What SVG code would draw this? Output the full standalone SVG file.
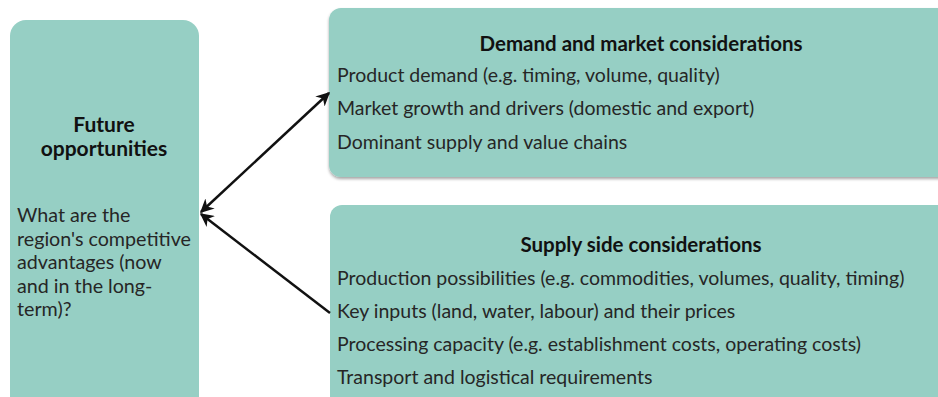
<svg xmlns="http://www.w3.org/2000/svg" width="938" height="397" viewBox="0 0 938 397">
  <style>
    .box { fill: #96cfc4; }
    .t { font-family: Lato, "Open Sans", "Liberation Sans", sans-serif; font-size: 19.5px; fill: #262626; }
    .h { font-family: Lato, "Open Sans", "Liberation Sans", sans-serif; font-size: 20.5px; font-weight: bold; fill: #111; }
    .fh { font-family: Lato, "Open Sans", "Liberation Sans", sans-serif; font-size: 21px; font-weight: bold; fill: #111; }
    .lt { font-family: Lato, "Open Sans", "Liberation Sans", sans-serif; font-size: 19.7px; fill: #262626; }
    .conn { stroke: #111; stroke-width: 2.5; fill: none; }
  </style>
  <defs>
    <marker id="arrow" viewBox="0 0 10 10" refX="9" refY="5" markerWidth="5.5" markerHeight="5.5" orient="auto-start-reverse" markerUnits="strokeWidth">
      <path d="M0,0 L10,5 L0,10 L3,5 z" fill="#111"/>
    </marker>
    <filter id="shadow" x="-5%" y="-5%" width="110%" height="120%">
      <feDropShadow dx="0" dy="2" stdDeviation="1.5" flood-color="#000" flood-opacity="0.35"/>
    </filter>
  </defs>
  <rect width="938" height="397" fill="#ffffff"/>

  <g id="future">
    <rect class="box" x="10" y="20" width="189" height="400" rx="16"/>
    <text class="fh" x="104" y="132" text-anchor="middle">Future</text>
    <text class="fh" x="104" y="156" text-anchor="middle">opportunities</text>
    <text class="lt" x="17" y="222">What are the</text>
    <text class="lt" x="17" y="246">region's competitive</text>
    <text class="lt" x="17" y="269">advantages (now</text>
    <text class="lt" x="17" y="293">and in the long-</text>
    <text class="lt" x="17" y="316">term)?</text>
  </g>

  <g id="demand">
    <rect class="box" x="329" y="8" width="640" height="169" rx="12" filter="url(#shadow)"/>
    <text class="h" x="641" y="51" text-anchor="middle">Demand and market considerations</text>
    <text class="t" x="337" y="82">Product demand (e.g. timing, volume, quality)</text>
    <text class="t" x="337" y="115">Market growth and drivers (domestic and export)</text>
    <text class="t" x="337" y="149">Dominant supply and value chains</text>
  </g>

  <g id="supply">
    <rect class="box" x="330" y="205" width="640" height="220" rx="12"/>
    <text class="h" x="641" y="252" text-anchor="middle">Supply side considerations</text>
    <text class="t" x="337" y="285">Production possibilities (e.g. commodities, volumes, quality, timing)</text>
    <text class="t" x="337" y="318">Key inputs (land, water, labour) and their prices</text>
    <text class="t" x="337" y="351">Processing capacity (e.g. establishment costs, operating costs)</text>
    <text class="t" x="337" y="384">Transport and logistical requirements</text>
  </g>

  <g id="connectors">
    <line class="conn" x1="201" y1="212" x2="329" y2="93" marker-start="url(#arrow)" marker-end="url(#arrow)"/>
    <line class="conn" x1="330" y1="313" x2="201" y2="214" marker-end="url(#arrow)"/>
  </g>
</svg>
